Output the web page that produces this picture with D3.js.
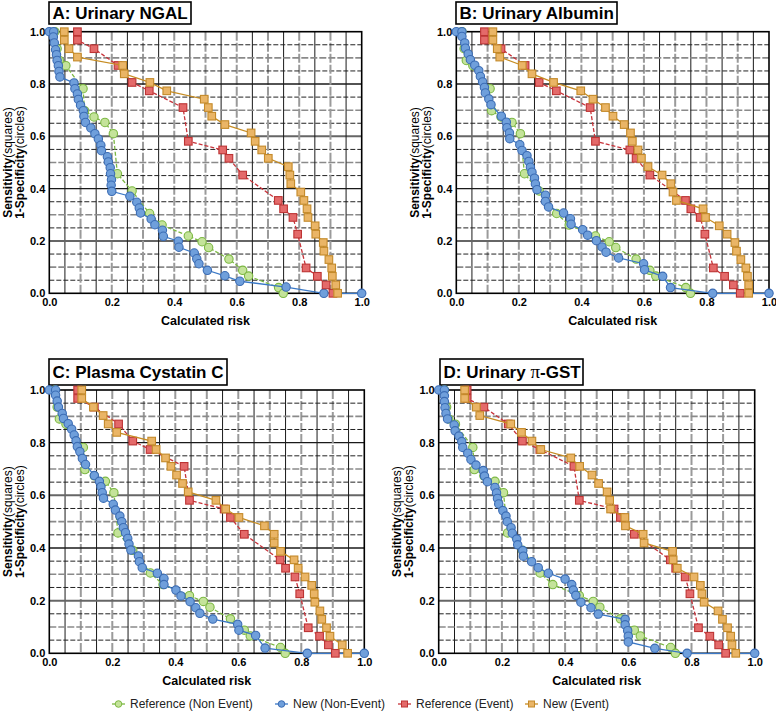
<!DOCTYPE html>
<html>
<head>
<meta charset="utf-8">
<script src="https://cdn.jsdelivr.net/npm/d3@7"></script>
<style>
body { margin: 0; background: #fff; }
text { font-family: "Liberation Sans", Arial, Helvetica, sans-serif; }
</style>
</head>
<body>
<svg id="chart" width="776" height="712"></svg>
<script>
// tick values shared by every panel
const tickValues = [0, 0.2, 0.4, 0.6, 0.8, 1.0]
const titles = ["A: Urinary NGAL", "B: Urinary Albumin", "C: Plasma Cystatin C", "D: Urinary π-GST"]
const legendLabels = ["Reference (Non Event)", "New (Non-Event)", "Reference (Event)", "New (Event)"]

// reference model is the same in all four panels
const refNonEvent = [[0.018,1],[0.025,0.935],[0.032,0.89],[0.053,0.87],[0.108,0.782],[0.113,0.698],[0.143,0.674],
  [0.178,0.653],[0.205,0.61],[0.218,0.457],[0.265,0.391],[0.321,0.305],[0.361,0.261],[0.445,0.219],[0.489,0.197],
  [0.51,0.175],[0.575,0.131],[0.619,0.088],[0.638,0.066],[0.734,0.022],[0.749,0]]
const refEvent = [[0.09,1],[0.09,0.968],[0.143,0.935],[0.22,0.871],[0.265,0.806],[0.32,0.774],[0.428,0.71],
  [0.445,0.581],[0.555,0.548],[0.575,0.516],[0.619,0.452],[0.733,0.355],[0.75,0.323],[0.78,0.29],[0.795,0.226],
  [0.822,0.097],[0.858,0.065],[0.886,0.032],[0.908,0]]

// new model, non events (circles)
const newNonEventA = [[0,1],[0.014,1],[0.013,0.98],[0.016,0.957],[0.02,0.931],[0.023,0.912],[0.025,0.89],[0.029,0.87],
  [0.031,0.848],[0.034,0.827],[0.079,0.804],[0.082,0.782],[0.09,0.762],[0.093,0.741],[0.1,0.719],[0.109,0.698],
  [0.111,0.676],[0.116,0.653],[0.133,0.632],[0.146,0.61],[0.157,0.59],[0.165,0.566],[0.167,0.545],[0.186,0.522],
  [0.189,0.502],[0.195,0.48],[0.196,0.457],[0.199,0.434],[0.198,0.413],[0.2,0.39],[0.258,0.371],[0.28,0.348],
  [0.288,0.326],[0.292,0.307],[0.326,0.284],[0.338,0.262],[0.362,0.241],[0.365,0.218],[0.413,0.199],[0.415,0.176],
  [0.464,0.154],[0.472,0.132],[0.479,0.113],[0.506,0.088],[0.562,0.067],[0.61,0.046],[0.758,0.024],[0.879,0],[1,0]]
const newNonEventB = [[0,1],[0.018,1],[0.018,0.982],[0.027,0.957],[0.029,0.937],[0.038,0.915],[0.045,0.893],
  [0.059,0.872],[0.072,0.851],[0.077,0.829],[0.084,0.808],[0.09,0.787],[0.093,0.766],[0.104,0.743],[0.111,0.721],
  [0.144,0.677],[0.16,0.654],[0.162,0.633],[0.17,0.613],[0.171,0.591],[0.203,0.568],[0.21,0.546],[0.226,0.526],
  [0.232,0.504],[0.237,0.482],[0.242,0.463],[0.25,0.44],[0.253,0.418],[0.258,0.396],[0.285,0.375],[0.285,0.351],
  [0.295,0.33],[0.343,0.307],[0.365,0.285],[0.367,0.264],[0.404,0.243],[0.42,0.222],[0.448,0.201],[0.466,0.177],
  [0.479,0.157],[0.519,0.135],[0.599,0.113],[0.602,0.09],[0.66,0.065],[0.685,0.022],[0.82,0],[1,0]]
const newNonEventC = [[0,1],[0.02,1],[0.02,0.98],[0.025,0.958],[0.029,0.935],[0.041,0.911],[0.045,0.892],[0.06,0.872],
  [0.071,0.851],[0.079,0.829],[0.085,0.807],[0.089,0.785],[0.097,0.766],[0.105,0.74],[0.115,0.717],[0.143,0.675],
  [0.159,0.653],[0.164,0.633],[0.168,0.61],[0.172,0.589],[0.203,0.566],[0.21,0.544],[0.224,0.521],[0.23,0.5],
  [0.235,0.477],[0.242,0.458],[0.249,0.436],[0.253,0.415],[0.259,0.392],[0.283,0.37],[0.286,0.348],[0.295,0.325],
  [0.343,0.304],[0.364,0.284],[0.364,0.261],[0.402,0.24],[0.418,0.218],[0.447,0.196],[0.465,0.173],[0.478,0.152],
  [0.519,0.13],[0.598,0.11],[0.602,0.088],[0.655,0.068],[0.685,0.02],[0.819,0],[1,0]]
const newNonEventD = [[0,1],[0.018,1],[0.018,0.978],[0.018,0.956],[0.02,0.933],[0.023,0.911],[0.028,0.89],[0.049,0.867],
  [0.052,0.845],[0.064,0.825],[0.073,0.804],[0.076,0.782],[0.092,0.76],[0.102,0.736],[0.118,0.715],[0.141,0.694],
  [0.145,0.673],[0.154,0.652],[0.178,0.63],[0.183,0.609],[0.186,0.588],[0.19,0.567],[0.203,0.542],[0.213,0.521],
  [0.217,0.5],[0.229,0.477],[0.233,0.456],[0.247,0.434],[0.25,0.412],[0.266,0.39],[0.268,0.369],[0.294,0.348],
  [0.315,0.325],[0.347,0.304],[0.4,0.282],[0.421,0.261],[0.426,0.24],[0.434,0.22],[0.45,0.194],[0.482,0.173],
  [0.505,0.149],[0.59,0.129],[0.59,0.108],[0.598,0.086],[0.6,0.065],[0.6,0.043],[0.684,0.019],[0.786,0],[1,0]]

// new model, events (squares)
const newEventA = [[0.048,1],[0.048,0.968],[0.063,0.935],[0.09,0.903],[0.235,0.871],[0.24,0.839],[0.322,0.806],
  [0.376,0.774],[0.496,0.742],[0.509,0.71],[0.52,0.677],[0.562,0.645],[0.646,0.613],[0.659,0.581],[0.68,0.548],
  [0.701,0.516],[0.765,0.484],[0.77,0.452],[0.773,0.419],[0.805,0.387],[0.815,0.355],[0.825,0.323],[0.828,0.29],
  [0.851,0.258],[0.853,0.226],[0.877,0.194],[0.879,0.161],[0.895,0.129],[0.904,0.097],[0.906,0.065],[0.917,0.032],[0.923,0]]
const newEventB = [[0.117,1],[0.117,0.968],[0.131,0.935],[0.139,0.903],[0.211,0.871],[0.242,0.839],[0.311,0.806],
  [0.398,0.774],[0.437,0.742],[0.477,0.71],[0.501,0.677],[0.537,0.645],[0.557,0.613],[0.563,0.581],[0.581,0.548],
  [0.592,0.516],[0.613,0.484],[0.658,0.452],[0.686,0.419],[0.693,0.387],[0.704,0.355],[0.789,0.323],[0.797,0.29],
  [0.841,0.258],[0.866,0.226],[0.891,0.194],[0.896,0.161],[0.91,0.129],[0.926,0.097],[0.931,0.065],[0.935,0.032],[0.935,0]]
const newEventC = [[0.103,1],[0.103,0.968],[0.14,0.935],[0.171,0.903],[0.187,0.871],[0.214,0.839],[0.325,0.806],
  [0.339,0.774],[0.369,0.742],[0.386,0.71],[0.404,0.677],[0.423,0.645],[0.441,0.613],[0.529,0.581],[0.56,0.548],
  [0.602,0.516],[0.683,0.484],[0.714,0.452],[0.714,0.419],[0.734,0.387],[0.777,0.355],[0.79,0.323],[0.812,0.29],
  [0.833,0.258],[0.841,0.226],[0.843,0.194],[0.859,0.161],[0.865,0.129],[0.88,0.097],[0.891,0.065],[0.93,0.032],[0.947,0]]
const newEventD = [[0.082,1],[0.082,0.968],[0.119,0.935],[0.13,0.903],[0.228,0.871],[0.262,0.839],[0.295,0.806],
  [0.323,0.774],[0.418,0.742],[0.446,0.71],[0.485,0.677],[0.506,0.645],[0.533,0.613],[0.541,0.581],[0.544,0.548],
  [0.589,0.516],[0.591,0.484],[0.647,0.452],[0.65,0.419],[0.74,0.387],[0.742,0.355],[0.755,0.323],[0.808,0.29],
  [0.828,0.258],[0.833,0.226],[0.84,0.194],[0.884,0.161],[0.898,0.129],[0.914,0.097],[0.924,0.065],[0.928,0.032],[0.94,0]]

const colors = {
  greenLine: "#7cb843", greenFill: "#c4e39a",
  blueLine: "#3a78c6", blueFill: "#6f9fdb", blueStroke: "#3b6cb4",
  redLine: "#c8333a", redFill: "#e46a6a", redStroke: "#bd3434",
  orangeLine: "#c68c22", orangeFill: "#eab566", orangeStroke: "#c48a2a"
}

// layout of the four panels (pixels)
const panels = [
  {title: titles[0], left: 49.3, right: 361.7, top: 31.7, bottom: 293.3, box: [49, 2, 142, 22], blue: newNonEventA, orange: newEventA},
  {title: titles[1], left: 456.3, right: 769, top: 31.7, bottom: 293.3, box: [456, 2, 161, 22], blue: newNonEventB, orange: newEventB},
  {title: titles[2], left: 49.3, right: 364.3, top: 390, bottom: 653.3, box: [49, 359, 178, 26], blue: newNonEventC, orange: newEventC},
  {title: titles[3], left: 438.7, right: 754.7, top: 390, bottom: 653.3, box: [440, 359, 143, 26], blue: newNonEventD, orange: newEventD}
]

const svg = d3.select("#chart")

function drawPanel(p) {
  var x = d3.scaleLinear().domain([0, 1]).range([p.left, p.right])
  var y = d3.scaleLinear().domain([0, 1]).range([p.bottom, p.top])
  var g = svg.append("g")

  // grid, every 0.05
  var steps = d3.range(1, 20)
  steps.forEach(function (i) {
    var v = i * 0.05
    var vl = g.append("line")
      .attr("x1", x(v)).attr("x2", x(v))
      .attr("y1", p.top).attr("y2", p.bottom)
    if (i % 2 == 1) {
      vl.attr("stroke", "#1a1a1a").attr("stroke-width", 1)
    } else {
      vl.attr("stroke", "#9a9a9a").attr("stroke-width", 2).attr("stroke-dasharray", "9,2")
    }
    var hl = g.append("line")
      .attr("x1", p.left).attr("x2", p.right)
      .attr("y1", y(v)).attr("y2", y(v))
    if (i % 4 == 0) {
      hl.attr("stroke", i % 8 == 0 ? "#1a1a1a" : "#666").attr("stroke-width", i % 8 == 0 ? 1.3 : 2)
    } else if (i % 2 == 0) {
      hl.attr("stroke", "#8a8a8a").attr("stroke-width", 1.6).attr("stroke-dasharray", "7,2")
    } else {
      hl.attr("stroke", "#222").attr("stroke-width", 1).attr("stroke-dasharray", "5,2")
    }
  })

  g.append("rect")
    .attr("x", p.left).attr("y", p.top)
    .attr("width", p.right - p.left).attr("height", p.bottom - p.top)
    .attr("fill", "none").attr("stroke", "#000").attr("stroke-width", 1.6)

  // axes
  var xAxis = g.append("g")
    .attr("transform", "translate(0," + p.bottom + ")")
    .call(d3.axisBottom(x).tickValues(tickValues).tickFormat(d3.format(".1f")).tickSize(0).tickPadding(5))
  var yAxis = g.append("g")
    .attr("transform", "translate(" + p.left + ",0)")
    .call(d3.axisLeft(y).tickValues(tickValues).tickFormat(d3.format(".1f")).tickSize(0).tickPadding(4))
  ;[xAxis, yAxis].forEach(function (a) {
    a.select(".domain").remove()
    a.selectAll("text").attr("font-size", 11).attr("font-weight", "bold").attr("fill", "#000")
      .attr("font-family", "Liberation Sans, Arial, sans-serif")
  })

  g.append("text")
    .attr("x", (p.left + p.right) / 2).attr("y", p.bottom + 32)
    .attr("text-anchor", "middle").attr("font-size", 12.5).attr("font-weight", "bold")
    .text("Calculated risk")

  // two line y label
  var yl = g.append("g")
    .attr("transform", "translate(" + (p.left - 37.5) + "," + (p.top + p.bottom) / 2 + ") rotate(-90)")
  var t1 = yl.append("text").attr("text-anchor", "middle").attr("font-size", 12)
  t1.append("tspan").attr("font-weight", "bold").text("Sensitivity")
  t1.append("tspan").text("(squares)")
  var t2 = yl.append("text").attr("y", 12).attr("text-anchor", "middle").attr("font-size", 12)
  t2.append("tspan").attr("font-weight", "bold").text("1-Specificity")
  t2.append("tspan").text("(circles)")

  // title box
  g.append("rect")
    .attr("x", p.box[0]).attr("y", p.box[1]).attr("width", p.box[2]).attr("height", p.box[3])
    .attr("fill", "#fff").attr("stroke", "#000").attr("stroke-width", 1.6)
  var tt = g.append("text")
    .attr("x", p.box[0] + 3.5).attr("y", p.box[1] + p.box[3] / 2 + 6)
    .attr("font-size", 17).attr("font-weight", "bold")
  if (p.title.indexOf("π") >= 0) {
    var parts = p.title.split("π")
    tt.append("tspan").text(parts[0])
    tt.append("tspan").attr("font-family", "Liberation Serif, Times New Roman, serif").attr("font-weight", "normal").attr("font-size", 19).text("π")
    tt.append("tspan").text(parts[1])
  } else {
    tt.text(p.title)
  }

  var line = d3.line().x(function (d) { return x(d[0]) }).y(function (d) { return y(d[1]) })

  // series: reference non event, new non event, reference event, new event
  var series = [
    {data: refNonEvent, line: colors.greenLine, fill: colors.greenFill, stroke: colors.greenLine, dash: "4,2", shape: "circle"},
    {data: p.blue, line: colors.blueLine, fill: colors.blueFill, stroke: colors.blueStroke, dash: null, shape: "circle"},
    {data: refEvent, line: colors.redLine, fill: colors.redFill, stroke: colors.redStroke, dash: "4,2", shape: "square"},
    {data: p.orange, line: colors.orangeLine, fill: colors.orangeFill, stroke: colors.orangeStroke, dash: null, shape: "square"}
  ]
  series.forEach(function (s) {
    g.append("path").datum(s.data)
      .attr("d", line).attr("fill", "none")
      .attr("stroke", s.line).attr("stroke-width", 1.3)
      .attr("stroke-dasharray", s.dash)
    if (s.shape == "circle") {
      g.selectAll(null).data(s.data).enter().append("circle")
        .attr("cx", function (d) { return x(d[0]) })
        .attr("cy", function (d) { return y(d[1]) })
        .attr("r", 4.2)
        .attr("fill", s.fill).attr("stroke", s.stroke).attr("stroke-width", 1.1)
    } else {
      g.selectAll(null).data(s.data).enter().append("rect")
        .attr("x", function (d) { return x(d[0]) - 3.8 })
        .attr("y", function (d) { return y(d[1]) - 3.8 })
        .attr("width", 7.6).attr("height", 7.6)
        .attr("fill", s.fill).attr("stroke", s.stroke).attr("stroke-width", 1.1)
    }
  })
}

panels.forEach(drawPanel)

// legend along the bottom
var legendX = [112, 275, 398, 525]
var legendStyle = [
  {line: colors.greenLine, fill: colors.greenFill, stroke: colors.greenLine, shape: "circle"},
  {line: colors.blueLine, fill: colors.blueFill, stroke: colors.blueStroke, shape: "circle"},
  {line: colors.redLine, fill: colors.redFill, stroke: colors.redStroke, shape: "square"},
  {line: colors.orangeLine, fill: colors.orangeFill, stroke: colors.orangeStroke, shape: "square"}
]
var legendY = 704
legendLabels.forEach(function (lab, i) {
  var lx = legendX[i]
  var st = legendStyle[i]
  svg.append("line").attr("x1", lx).attr("x2", lx + 13).attr("y1", legendY).attr("y2", legendY)
    .attr("stroke", st.line).attr("stroke-width", 1.3)
  if (st.shape == "circle") {
    svg.append("circle").attr("cx", lx + 6.5).attr("cy", legendY).attr("r", 3.3)
      .attr("fill", st.fill).attr("stroke", st.stroke).attr("stroke-width", 1)
  } else {
    svg.append("rect").attr("x", lx + 3.5).attr("y", legendY - 3).attr("width", 6).attr("height", 6)
      .attr("fill", st.fill).attr("stroke", st.stroke).attr("stroke-width", 1)
  }
  svg.append("text").attr("x", lx + 18).attr("y", legendY + 4.3)
    .attr("font-size", 12).attr("fill", "#222").text(lab)
})
</script>
</body>
</html>
